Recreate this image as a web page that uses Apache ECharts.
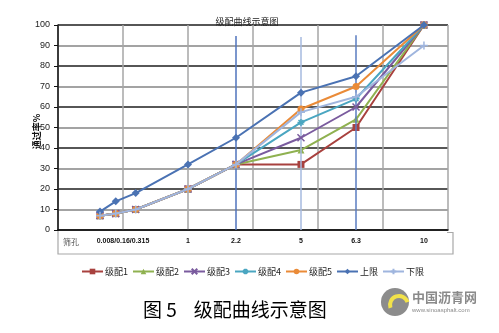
<!DOCTYPE html>
<html><head><meta charset="utf-8">
<script src="https://cdn.jsdelivr.net/npm/echarts@6/dist/echarts.min.js"></script>
<style>html,body{margin:0;padding:0;background:#fff}#c{width:499px;height:333px}</style>
</head><body><div id="c"></div>
<script>
// sieve positions along the chart's horizontal scale (axis units)
var xPos = [0.646, 0.888, 1.195, 2.0, 2.738, 3.738, 4.585, 5.63];
var xTickText = ['筛孔', '0.008/0.16/0.315', '1', '2.2', '5', '6.3', '10'];
var xTickPos = [0.2, 1.0, 2.0, 2.738, 3.738, 4.585, 5.63];
var seriesNames = ['级配1', '级配2', '级配3', '级配4', '级配5', '上限', '下限'];
var grad1 = [7, 8, 10, 20, 32, 32, 50, 100];
var grad2 = [7, 8, 10, 20, 32, 39, 54, 100];
var grad3 = [7, 8, 10, 20, 32, 45, 60, 100];
var grad4 = [7, 8, 10, 20, 32, 52.5, 64, 100];
var grad5 = [7, 8, 10, 20, 32, 59, 70, 100];
var upper = [9, 14, 18, 32, 45, 67, 75, 100];
var lower = [7, 8, 10, 20, 32, 57.5, 65, 90];
var guideIdx = [4, 5, 6];
var guideTop = [94.6, 94.2, 95];

var colors = ['#a8413e', '#8fb150', '#7a5b9e', '#4aa6c1', '#ea8b38', '#4a72b3', '#9fb5de'];
var symbols = ['rect', 'triangle', 'path://M0,0L10,10M10,0L0,10',
  'path://M5,0L5,10M0,5L10,5M1.5,1.5L8.5,8.5M8.5,1.5L1.5,8.5', 'circle', 'diamond',
  'path://M5,0L5,10M0,5L10,5'];
var symSizes = [7, 7, 7, 7, 7, 8, 8];
var allData = [grad1, grad2, grad3, grad4, grad5, upper, lower];
var guideColors = ['#4f73bd', '#a6badf', '#5a7cc0'];

var chart = echarts.init(document.getElementById('c'), null, {renderer: 'canvas'});
var series = allData.map(function (d, i) {
  var isPath = symbols[i].indexOf('path://') === 0;
  return {
    name: seriesNames[i], type: 'line',
    data: d.map(function (v, j) { return [xPos[j], v]; }),
    symbol: symbols[i], symbolSize: symSizes[i],
    lineStyle: {color: colors[i], width: 2},
    itemStyle: {color: colors[i], borderColor: colors[i], borderWidth: isPath ? 1.5 : 0},
    z: 3 + i
  };
});
series.push({
  type: 'line', data: [], silent: true,
  markLine: {
    symbol: 'none', silent: true, label: {show: false},
    data: guideIdx.map(function (k, i) {
      return [{coord: [xPos[k], 0], lineStyle: {color: guideColors[i], width: 1.5, type: 'solid'}},
              {coord: [xPos[k], guideTop[i]]}];
    })
  },
  z: 2
});

chart.setOption({
  animation: false,
  title: {
    text: '级配曲线示意图', left: 242, top: 12, textAlign: 'center',
    textStyle: {fontSize: 9, fontWeight: 'normal', color: '#222', fontFamily: 'Noto Sans CJK SC'}
  },
  legend: {
    data: seriesNames, left: 76, top: 262, itemWidth: 21, itemHeight: 7, itemGap: 4,
    textStyle: {fontSize: 9, color: '#222', fontFamily: 'Noto Sans CJK SC', padding: [0, 0, 0, -3]}
  },
  grid: {left: 58, right: 51, top: 25, bottom: 103, containLabel: false},
  xAxis: {
    type: 'value', min: 0, max: 6, interval: 1,
    axisLine: {show: true, onZero: false, lineStyle: {color: '#111', width: 1.5}},
    axisTick: {show: false},
    splitLine: {show: true, lineStyle: {color: '#a6a6a6', width: 1.5}},
    axisLabel: {
      customValues: xTickPos, margin: 8,
      formatter: function (v) {
        var best = 0;
        for (var i = 1; i < xTickPos.length; i++) {
          if (Math.abs(xTickPos[i] - v) < Math.abs(xTickPos[best] - v)) best = i;
        }
        return best === 0 ? '{a|' + xTickText[0] + '}' : '{b|' + xTickText[best] + '}';
      },
      rich: {
        a: {fontSize: 8, color: '#555', fontFamily: 'Noto Sans CJK SC'},
        b: {fontSize: 7, fontWeight: 'bold', color: '#111', fontFamily: 'Liberation Sans'}
      }
    }
  },
  yAxis: {
    type: 'value', min: 0, max: 100, interval: 10,
    name: '通过率%', nameLocation: 'middle', nameGap: 17, nameRotate: 90, nameMoveOverlap: false,
    nameTextStyle: {fontSize: 9, fontWeight: 'bold', color: '#111', fontFamily: 'Noto Sans CJK SC', padding: [0, 8, 0, 0]},
    axisLine: {show: true, lineStyle: {color: '#111', width: 1.5}},
    axisTick: {show: true, length: 4, lineStyle: {color: '#111'}},
    splitLine: {show: true, lineStyle: {color: ['#1e1e1e', '#858585'], width: 1.5}},
    axisLabel: {fontSize: 9, color: '#222', margin: 8, fontFamily: 'Liberation Sans'}
  },
  graphic: [
    {type: 'polyline', shape: {points: [[58, 230], [58, 254], [453, 254], [453, 232.5], [447, 232.5]]},
      style: {stroke: '#a8a8a8', lineWidth: 1.2, fill: null}, silent: true},
    {type: 'text', left: 143, top: 300,
      style: {text: '图 5    级配曲线示意图', fontSize: 19, fill: '#000', fontFamily: 'Noto Sans CJK SC'}},
    {type: 'circle', shape: {cx: 395, cy: 302, r: 14}, style: {fill: '#8c8c8c'}, silent: true},
    {type: 'arc', shape: {cx: 399, cy: 305, r: 9, startAngle: Math.PI * 0.9, endAngle: Math.PI * 1.9},
      style: {stroke: '#f2e24a', lineWidth: 4, fill: null}, silent: true},
    {type: 'text', left: 412, top: 291,
      style: {text: '中国沥青网', fontSize: 13, fontWeight: 'bold', fill: '#8a8a8a', fontFamily: 'Noto Sans CJK SC'}},
    {type: 'text', left: 412, top: 307,
      style: {text: 'www.sinoasphalt.com', fontSize: 6, fill: '#8a8a8a', fontFamily: 'Liberation Sans'}}
  ],
  series: series
});
</script></body></html>
